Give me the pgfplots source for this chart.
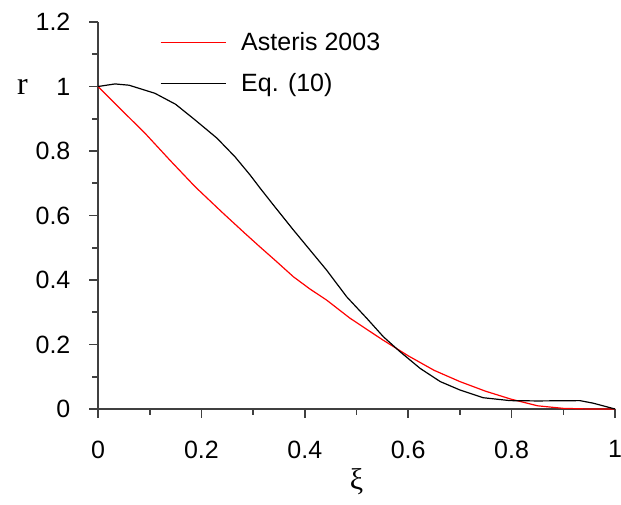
\documentclass[border=0pt]{standalone}
\usepackage{pgfplots}
\pgfplotsset{compat=1.18}
\usepackage{fontspec}
\setmainfont{Liberation Sans}
\newfontfamily\serif{Liberation Serif}
\begin{document}
\begin{tikzpicture}
\begin{axis}[
  width=258.5pt, height=193.5pt, scale only axis,
  xmin=0, xmax=1, ymin=0, ymax=1.2,
  axis lines=left,
  axis line style={-, line width=0.8pt, color=black!75},
  xtick={0,0.2,0.4,0.6,0.8,1},
  xticklabels={0,0.2,0.4,0.6,0.8,1},
  minor xtick={0.1,0.3,0.5,0.7,0.9},
  ytick={0,0.2,0.4,0.6,0.8,1,1.2},
  yticklabels={0,0.2,0.4,0.6,0.8,1,1.2},
  minor ytick={0.1,0.3,0.5,0.7,0.9,1.1},
  tick align=outside,
  x tick style={major tick length=3.3pt, minor tick length=3.3pt},
  y tick style={major tick length=4pt, minor tick length=4pt},
  every x tick/.style={line width=0.8pt, color=black!75},
  every y tick/.style={line width=0.8pt, color=black!75},
  every minor tick/.style={line width=0.8pt, color=black!75},
  /pgf/number format/assume math mode=true,
  tick label style={font=\fontsize{12.5}{14}\selectfont},
  xticklabel style={yshift=-8pt},
  yticklabel style={xshift=-6pt},
  legend style={draw=none, fill=none, font=\fontsize{12.5}{14}\selectfont,
    at={(rel axis cs:0.12,1)}, anchor=north west, yshift=-3pt,
    row sep=6pt, column sep=5.5pt, inner sep=0pt, outer sep=0pt},
  legend cell align=left,
  legend image code/.code={\draw (0pt,0pt) -- (32.5pt,0pt);},
  clip=false,
]
\addplot[red, line width=0.6pt] coordinates {
(0,1) (0.05,0.92) (0.091,0.855) (0.14,0.77) (0.188,0.689) (0.24,0.61)
(0.284,0.545) (0.313,0.503) (0.342,0.462) (0.378,0.41) (0.41,0.372)
(0.442,0.338) (0.487,0.282) (0.55,0.215) (0.6,0.165) (0.65,0.12)
(0.7,0.085) (0.75,0.055) (0.8,0.03) (0.85,0.01) (0.9,0.002) (0.95,0) (1,0)
};
\addlegendentry{Asteris 2003}
\addplot[black, line width=0.6pt] coordinates {
(0,1) (0.033,1.008) (0.06,1.004) (0.11,0.979) (0.15,0.945) (0.188,0.896)
(0.23,0.84) (0.265,0.782) (0.294,0.726) (0.313,0.686) (0.342,0.627)
(0.378,0.555) (0.41,0.493) (0.442,0.431) (0.481,0.348) (0.52,0.281)
(0.552,0.224) (0.584,0.178)
(0.623,0.126) (0.662,0.085) (0.7,0.059) (0.745,0.035) (0.797,0.026)
(0.85,0.025) (0.932,0.026) (0.958,0.018) (1,0)
};
\addlegendentry{Eq. (10)}
\node at (axis cs:0,1) [xshift=-37.75pt] {\serif\fontsize{16}{18}\selectfont r};
\node at (axis cs:0.5,0) [yshift=-36.5pt] {\serif\fontsize{15}{17}\selectfont ξ};
\end{axis}
\pgfresetboundingbox
\path ([shift={(-49pt,-47.5pt)}]current axis.south west) rectangle ([shift={(3pt,11pt)}]current axis.north east);
\end{tikzpicture}
\end{document}
